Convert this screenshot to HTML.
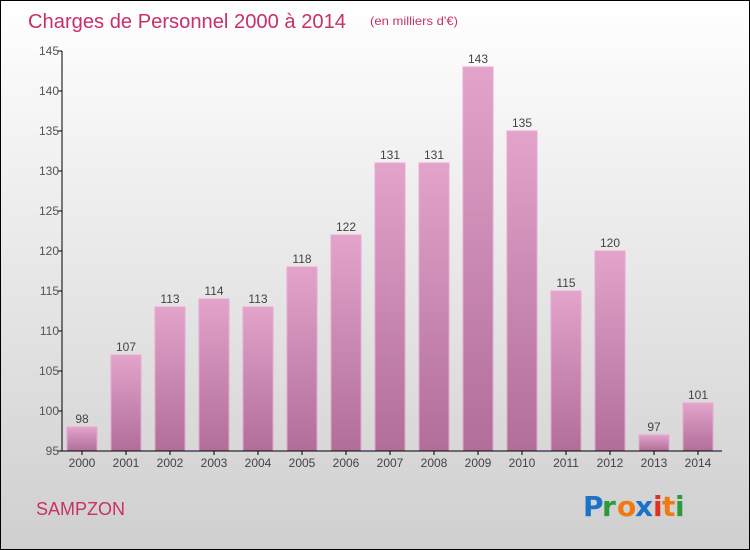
<!DOCTYPE html>
<html><head><meta charset="utf-8"><style>
body{margin:0}
#c{width:748px;height:548px;border:1px solid #000;background:linear-gradient(#ffffff,#cfcfcf);position:relative;overflow:hidden;font-family:"Liberation Sans",sans-serif}
</style></head><body>
<div id="c">
<svg id="s" width="748" height="548" xmlns="http://www.w3.org/2000/svg">
<defs><linearGradient id="bg" x1="0" y1="0" x2="0" y2="1"><stop offset="0" stop-color="#e3a3cb"/><stop offset="1" stop-color="#b06e98"/></linearGradient></defs>
<text x="27" y="27" font-size="20" fill="#c8306a" textLength="318" lengthAdjust="spacingAndGlyphs">Charges de Personnel 2000 à 2014</text>
<text x="369" y="24" font-size="12" fill="#c8306a" textLength="88" lengthAdjust="spacingAndGlyphs">(en milliers d'€)</text>
<text x="35" y="514" font-size="18" fill="#c8306a">SAMPZON</text>
<g font-size="28" font-family="'DejaVu Sans',sans-serif" font-weight="bold">
<text x="582" y="515" fill="#1a73c8">P</text><text x="601" y="515" fill="#2a9a3a">r</text><text x="616" y="515" fill="#f07a10">o</text><text x="634" y="515" fill="#1a73c8">x</text><text x="652" y="515" fill="#e03020">i</text><text x="661" y="515" fill="#f07a10">t</text><text x="674" y="515" fill="#2a9a3a">i</text></g>
<g id="plot"></g>
</svg></div>
<script>
const years=["2000","2001","2002","2003","2004","2005","2006","2007","2008","2009","2010","2011","2012","2013","2014"];
const values=[98,107,113,114,113,118,122,131,131,143,135,115,120,97,101];
const ticks=[95,100,105,110,115,120,125,130,135,140,145];
const NS="http://www.w3.org/2000/svg";
const g=document.getElementById('plot');
const y=v=>450-(v-95)*8;
const x=i=>81+i*44;
function mk(t,a,txt){const e=document.createElementNS(NS,t);for(const k in a)e.setAttribute(k,a[k]);if(txt!==undefined)e.textContent=txt;g.appendChild(e);return e;}
values.forEach((v,i)=>{
 const r=mk('rect',{x:x(i)-15,y:y(v),width:30,height:450-y(v),fill:'url(#bg)',stroke:'#e8a8d0','stroke-width':1});
 
 
 const t=mk('text',{x:x(i),y:y(v)-4,'font-size':12,'text-anchor':'middle',fill:'#444'},v);
 
 
 const xl=mk('text',{x:x(i),y:466,'font-size':12,'text-anchor':'middle',fill:'#444'},years[i]);
 
 
 mk('line',{x1:x(i),x2:x(i),y1:450,y2:454,stroke:'#000'});
});
ticks.forEach(t=>{
 mk('line',{x1:57,x2:61,y1:y(t),y2:y(t),stroke:'#000'});
 const l=mk('text',{x:58,y:y(t)+4,'font-size':12,'text-anchor':'end',fill:'#555'},t);
 
 
});
const ya=mk('line',{x1:61,x2:61,y1:50,y2:450,stroke:'#000'});


const xa=mk('line',{x1:61,x2:721,y1:450,y2:450,stroke:'#000'});


</script>
</body></html>
